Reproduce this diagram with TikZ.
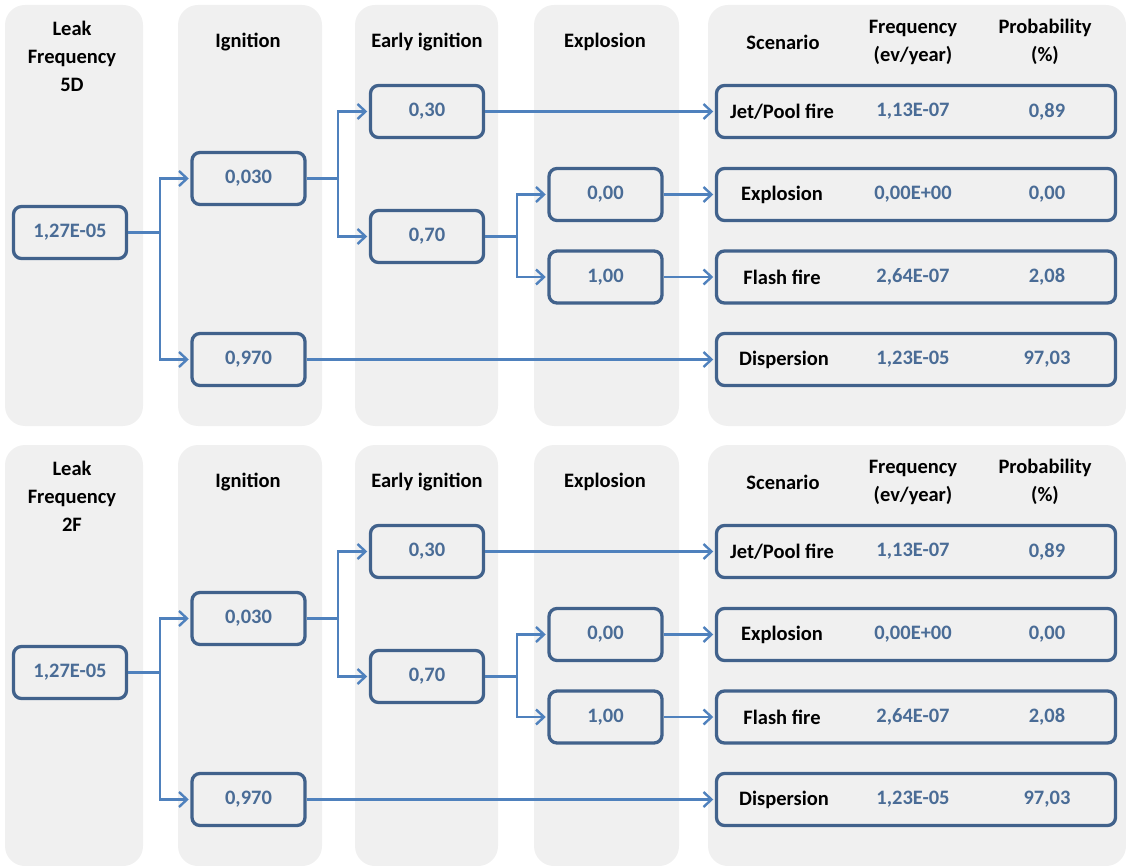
\documentclass[tikz,border=0pt]{standalone}
\usepackage{fontspec}
\setmainfont{Carlito}
\usetikzlibrary{arrows.meta}

\definecolor{panelgray}{HTML}{F0F0F0}
\definecolor{boxline}{HTML}{41628C}
\definecolor{numblue}{HTML}{4A6C96}
\definecolor{linkblue}{HTML}{4F81BD}

\tikzset{
  x=1pt, y=-1pt,
  panel/.style={fill=panelgray, draw=none, rounded corners=20pt},
  valbox/.style={draw=boxline, line width=3.3pt, rounded corners=8pt, fill=panelgray,
    minimum width=113pt, minimum height=52pt, inner sep=0pt,
    text=numblue, font=\bfseries\fontsize{20.5}{23}\selectfont},
  scenbox/.style={draw=boxline, line width=3.3pt, rounded corners=8pt, fill=panelgray,
    minimum width=399pt, minimum height=52pt, inner sep=0pt},
  head/.style={align=center, text=black, inner sep=0pt,
    font=\bfseries\fontsize{20.5}{28}\selectfont},
  scenname/.style={text=black, inner sep=0pt, font=\bfseries\fontsize{20.5}{23}\selectfont},
  scennum/.style={text=numblue, inner sep=0pt, font=\bfseries\fontsize{20.5}{23}\selectfont},
  link/.style={draw=linkblue, line width=2.4pt, shorten >=1.6pt,
    -{Straight Barb[length=8pt, width=15pt, line width=2.4pt]}},
}

\begin{document}
\begin{tikzpicture}
\useasboundingbox (0,0) rectangle (1126,866);

\foreach \p/\dy/\case in {t/0/5D, b/440/2F}{
\begin{scope}[shift={(0,\dy)}, name prefix=\p-]
  % column backgrounds
  \fill[panel] (5,5) rectangle (143,426);
  \fill[panel] (178,5) rectangle (322,426);
  \fill[panel] (355,5) rectangle (498,426);
  \fill[panel] (534,5) rectangle (679,426);
  \fill[panel] (708,5) rectangle (1126,426);

  % column headings
  \node[head] (hleak) at (72,56) {Leak\\Frequency\\\case};
  \node[head] (hign)  at (248,42) {Ignition};
  \node[head] (hearly) at (427,42) {Early ignition};
  \node[head] (hexpl) at (605,42) {Explosion};
  \node[head] (hscen) at (783,42) {Scenario};
  \node[head] (hfreq) at (913,42) {Frequency\\(ev/year)};
  \node[head] (hprob) at (1045,42) {Probability\\(\%)};

  % event tree values
  \node[valbox] (root)  at (70,232.5)  {1,27E-05};
  \node[valbox] (ign)   at (248.5,178.5) {0,030};
  \node[valbox] (noign) at (248.5,359.5) {0,970};
  \node[valbox] (early) at (427,111.5) {0,30};
  \node[valbox] (late)  at (427,236.5) {0,70};
  \node[valbox] (expl)  at (605.5,194.5) {0,00};
  \node[valbox] (nexpl) at (605.5,277) {1,00};

  % outcome rows
  \node[scenbox] (sjet)   at (916,111.5) {};
  \node[scenbox] (sexpl)  at (916,194.5) {};
  \node[scenbox] (sflash) at (916,277) {};
  \node[scenbox] (sdisp)  at (916,359.5) {};

  \node[scenname] (njet)   at (782,111.5) {Jet/Pool fire};
  \node[scenname] (nexp)   at (782,194.5) {Explosion};
  \node[scenname] (nflash) at (782,277) {Flash fire};
  \node[scenname] (ndisp)  at (784,359.5) {Dispersion};

  \node[scennum] (fjet)   at (913,111.5) {1,13E-07};
  \node[scennum] (fexp)   at (913,194.5) {0,00E+00};
  \node[scennum] (fflash) at (913,277) {2,64E-07};
  \node[scennum] (fdisp)  at (913,359.5) {1,23E-05};

  \node[scennum] (pjet)   at (1047,111.5) {0,89};
  \node[scennum] (pexp)   at (1047,194.5) {0,00};
  \node[scennum] (pflash) at (1047,277) {2,08};
  \node[scennum] (pdisp)  at (1047,359.5) {97,03};

  % branching points
  \coordinate (j1) at (160,232.5);
  \coordinate (j2) at (338,178.5);
  \coordinate (j3) at (517,236.5);

  % connectors
  \draw[link] (root.east) -- (j1) |- (ign.west);
  \draw[link] (j1) |- (noign.west);
  \draw[link] (ign.east) -- (j2) |- (early.west);
  \draw[link] (j2) |- (late.west);
  \draw[link] (late.east) -- (j3) |- (expl.west);
  \draw[link] (j3) |- (nexpl.west);
  \draw[link] (early.east) -- (sjet.west);
  \draw[link] (expl.east) -- (sexpl.west);
  \draw[link] (nexpl.east) -- (sflash.west);
  \draw[link] (noign.east) -- (sdisp.west);
\end{scope}
}
\end{tikzpicture}
\end{document}
